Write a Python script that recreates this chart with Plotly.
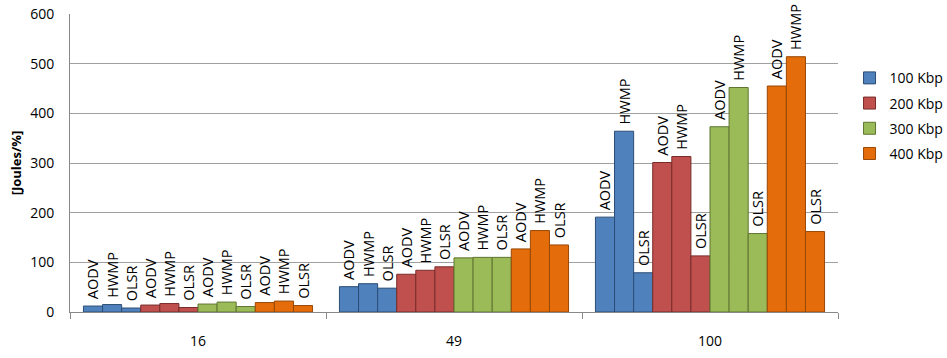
import plotly.graph_objects as go

categories = ["16", "49", "100"]
protocols = ["AODV", "HWMP", "OLSR"]
series_names = ["100 Kbp", "200 Kbp", "300 Kbp", "400 Kbp"]

# values[series][protocol] -> list over categories
values = {
    "100 Kbp": {"AODV": [12, 51, 191], "HWMP": [15, 57, 364], "OLSR": [8, 48, 79]},
    "200 Kbp": {"AODV": [14, 76, 301], "HWMP": [17, 84, 313], "OLSR": [9, 91, 113]},
    "300 Kbp": {"AODV": [16, 109, 373], "HWMP": [20, 110, 452], "OLSR": [11, 110, 158]},
    "400 Kbp": {"AODV": [19, 127, 455], "HWMP": [22, 164, 514], "OLSR": [13, 135, 162]},
}

fills = ["#4F81BD", "#C0504D", "#9BBB59", "#E46C0A"]
lines = ["#2C4D75", "#772C2A", "#5F7530", "#984807"]

FONT = "Open Sans"
PAD = "\u00a0"  # small gap between bar top and rotated label

fig = go.Figure()
for s, name in enumerate(series_names):
    for p, proto in enumerate(protocols):
        fig.add_trace(go.Bar(
            x=categories,
            y=values[name][proto],
            name=name,
            legendgroup=name,
            showlegend=(p == 0),
            marker=dict(color=fills[s], line=dict(color=lines[s], width=1)),
            text=[PAD + proto] * len(categories),
            textposition="outside",
            textangle=-90,
            constraintext="none",
            cliponaxis=False,
            outsidetextfont=dict(family=FONT, size=14.5, color="#000000"),
        ))

fig.update_layout(
    width=947,
    height=358,
    margin=dict(l=70, r=109, t=14, b=46, autoexpand=False),
    barmode="group",
    bargap=0.105,
    bargroupgap=0,
    plot_bgcolor="white",
    paper_bgcolor="white",
    font=dict(family=FONT, size=13, color="#000000"),
    legend=dict(
        x=1.015, y=0.838, xanchor="left", yanchor="top",
        font=dict(family=FONT, size=14),
        tracegroupgap=4,
        traceorder="grouped",
    ),
    xaxis=dict(
        type="category",
        showline=True, linecolor="#888888", linewidth=1,
        ticks="outside", tickson="boundaries", ticklen=6, tickcolor="#888888",
        ticklabelstandoff=16,
        tickfont=dict(family=FONT, size=14),
        showgrid=False,
    ),
    yaxis=dict(
        range=[0, 600], dtick=100,
        showgrid=True, gridcolor="#A0A0A0", gridwidth=1,
        showline=True, linecolor="#888888", linewidth=1,
        zeroline=False,
        ticks="", ticklabelstandoff=12,
        tickfont=dict(family=FONT, size=14),
        title=dict(text="<b>[Joules/%]</b>", font=dict(family=FONT, size=13), standoff=5),
    ),
)

fig.write_html("out.html")
